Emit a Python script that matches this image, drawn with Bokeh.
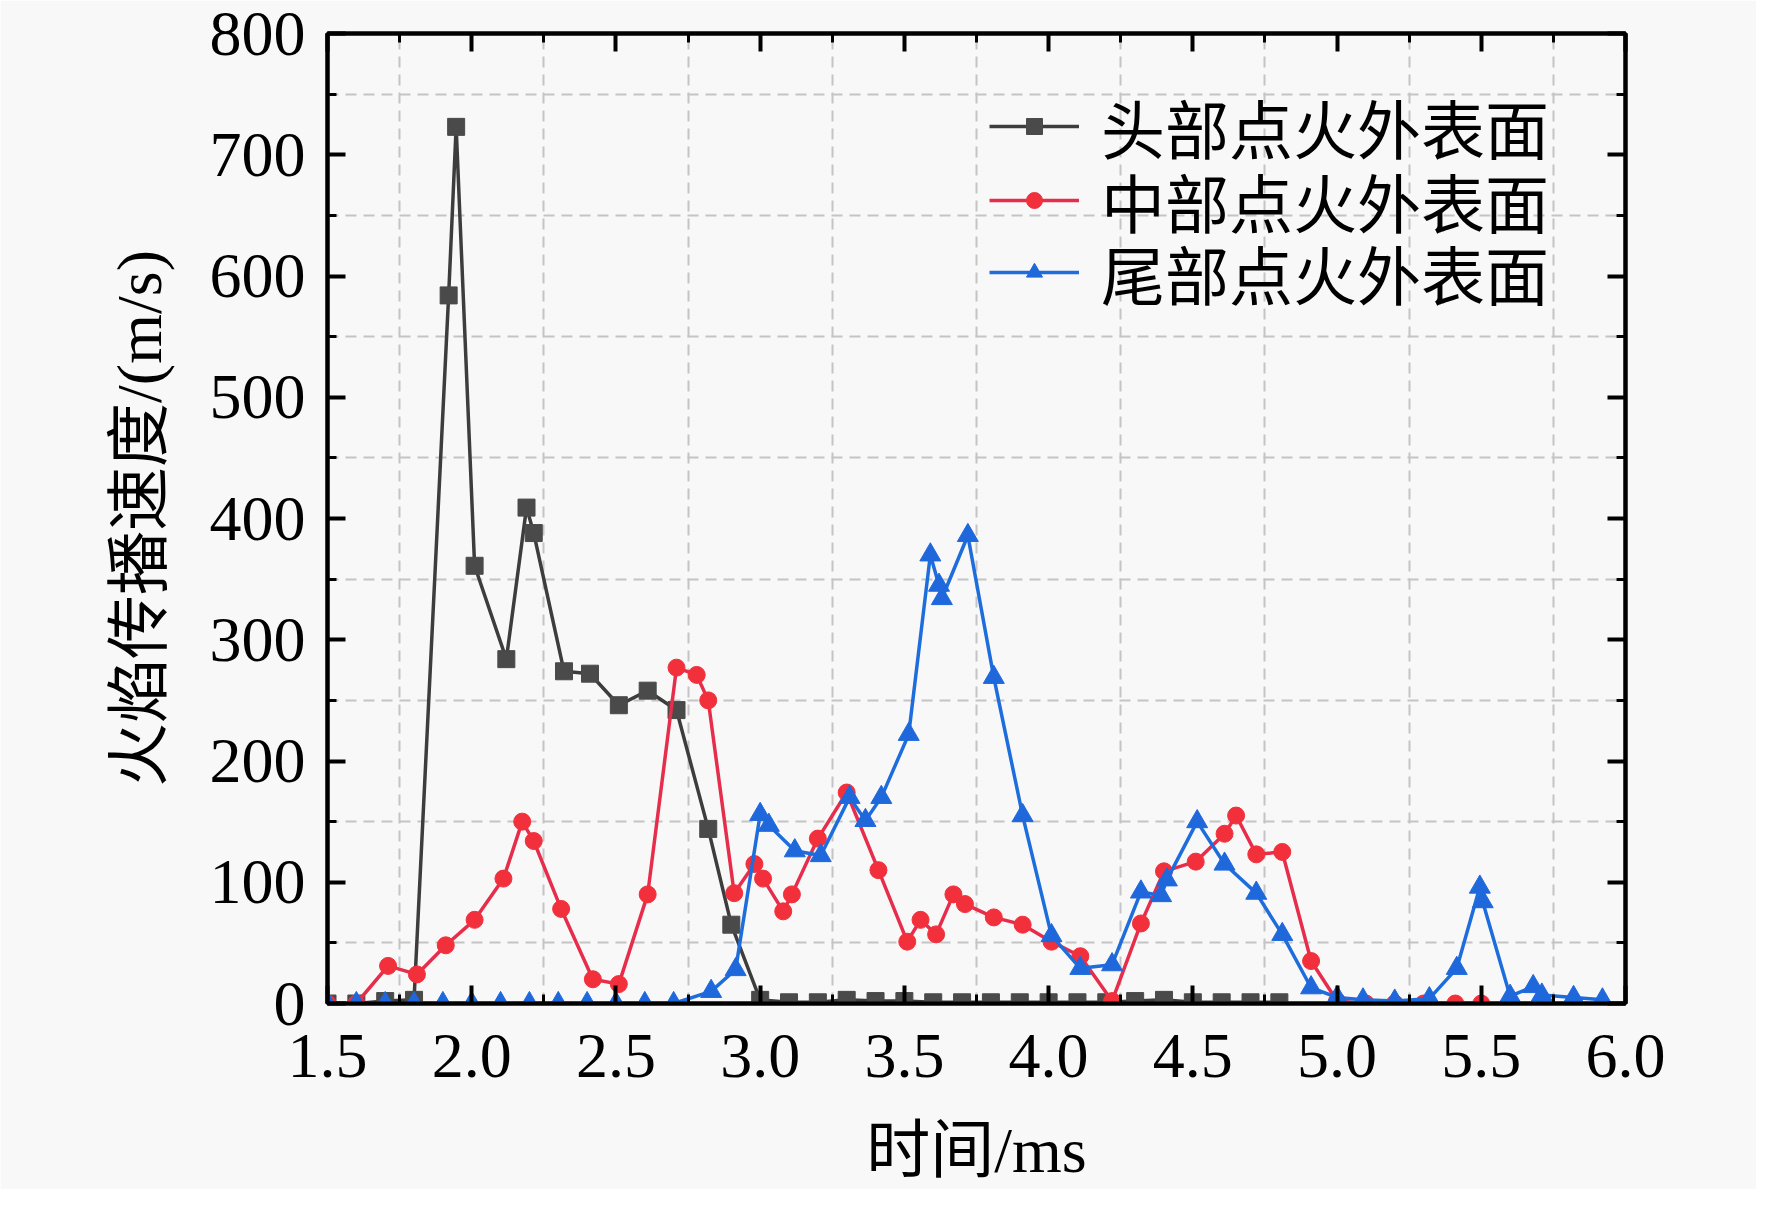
from bokeh.plotting import figure
from bokeh.models import (Range1d, FixedTicker, LinearAxis, PrintfTickFormatter, Legend,
                          CustomJSTickFormatter)
from bokeh.embed import file_html
from bokeh.resources import INLINE

# ---------------- data ----------------
head_x = [1.5, 1.6, 1.7, 1.8, 1.92, 1.946, 2.01, 2.12, 2.19, 2.215, 2.32, 2.41, 2.51, 2.61,
          2.71, 2.82, 2.90, 3.0, 3.1, 3.2, 3.3, 3.4, 3.5, 3.6, 3.7, 3.8, 3.9, 4.0, 4.1,
          4.2, 4.3, 4.4, 4.5, 4.6, 4.7, 4.8]
head_y = [0, 0, 2, 3, 584, 723, 361, 284, 409, 388, 274, 272, 246, 258,
          242, 144, 65, 3, 1, 1, 3, 2, 2, 1, 1, 1, 1, 1, 1,
          1, 2, 3, 1, 1, 1, 1]

mid_x = [1.5, 1.6, 1.71, 1.81, 1.91, 2.01, 2.11, 2.175, 2.215, 2.31, 2.42, 2.51, 2.61, 2.71,
         2.78, 2.82, 2.91, 2.98, 3.01, 3.08, 3.11, 3.20, 3.30, 3.41, 3.51, 3.556, 3.61, 3.67,
         3.71, 3.81, 3.91, 4.01, 4.11, 4.22, 4.32, 4.40, 4.51, 4.61, 4.65, 4.72, 4.81, 4.91,
         5.0, 5.1, 5.2, 5.3, 5.41, 5.5]
mid_y = [0, 0, 31, 24, 48, 69, 103, 150, 134, 78, 20, 16, 90, 277,
         271, 250, 91, 115, 103, 76, 90, 136, 174, 110, 51, 69, 57, 90,
         82, 71, 65, 51, 39, 2, 66, 109, 117, 140, 155, 123, 125, 35,
         2, 0, 0, 0, 0, 0]

tail_x = [1.5, 1.6, 1.7, 1.8, 1.9, 2.0, 2.1, 2.2, 2.3, 2.4, 2.5, 2.6, 2.7, 2.83, 2.915,
          3.0, 3.03, 3.12, 3.21, 3.31, 3.365, 3.42, 3.515, 3.59, 3.62, 3.63, 3.72, 3.81,
          3.91, 4.01, 4.11, 4.22, 4.32, 4.39, 4.41, 4.515, 4.61, 4.72, 4.81, 4.91, 5.0,
          5.09, 5.2, 5.32, 5.415, 5.495, 5.505, 5.6, 5.68, 5.71, 5.82, 5.92]
tail_y = [0, 0, 0, 0, 0, 0, 0, 0, 0, 0, 0, 0, 0, 10, 28,
          156, 147, 126, 122, 170, 151, 170, 222, 370, 345, 334, 386, 269,
          155, 56, 29, 32, 92, 89, 102, 150, 115, 91, 57, 13, 5,
          3, 2, 4, 29, 96, 84, 6, 14, 7, 5, 3]

series_names = ["头部点火外表面", "中部点火外表面", "尾部点火外表面"]
x_label = "时间/ms"
y_label = "火焰传播速度/(m/s)"

x_ticks = [1.5, 2.0, 2.5, 3.0, 3.5, 4.0, 4.5, 5.0, 5.5, 6.0]
x_minor = [1.75, 2.25, 2.75, 3.25, 3.75, 4.25, 4.75, 5.25, 5.75]
y_ticks = [0, 100, 200, 300, 400, 500, 600, 700, 800]
y_minor = [50, 150, 250, 350, 450, 550, 650, 750]

# ---------------- style ----------------
FONT = "Liberation Serif, 'Noto Sans CJK SC'"
FS = "64px"
BG = "#f8f8f8"

p = figure(width=1756, height=1189, output_backend="svg", toolbar_location=None,
           x_range=Range1d(1.5, 6.0), y_range=Range1d(0, 800),
           min_border_left=327, min_border_right=131, min_border_top=33, min_border_bottom=186,
           background_fill_color=BG, border_fill_color=BG)

p.outline_line_color = "black"
p.outline_line_width = 4

xt = FixedTicker(ticks=x_ticks, minor_ticks=x_minor)
yt = FixedTicker(ticks=y_ticks, minor_ticks=y_minor)

def style_axis(ax, ticker, labels=True):
    ax.ticker = ticker
    ax.axis_line_width = 4
    ax.axis_line_color = "black"
    ax.major_tick_in = 18
    ax.major_tick_out = 0
    ax.minor_tick_in = 9
    ax.minor_tick_out = 0
    ax.major_tick_line_width = 4
    ax.minor_tick_line_width = 3
    ax.major_tick_line_color = "black"
    ax.minor_tick_line_color = "black"
    if labels:
        ax.major_label_text_font = FONT
        ax.major_label_text_font_size = FS
        ax.major_label_text_color = "black"
        ax.axis_label_text_font = FONT
        ax.axis_label_text_font_size = FS
        ax.axis_label_text_font_style = "normal"
        ax.axis_label_text_color = "black"
    else:
        ax.formatter = CustomJSTickFormatter(code="return '';")
        ax.major_label_standoff = 0

style_axis(p.xaxis[0], xt)
style_axis(p.yaxis[0], yt)
p.xaxis[0].formatter = PrintfTickFormatter(format="%.1f")
p.xaxis[0].major_label_standoff = 31
p.xaxis[0].axis_label = x_label
p.xaxis[0].axis_label_standoff = 35
p.yaxis[0].major_label_standoff = 22
p.yaxis[0].axis_label = y_label
p.yaxis[0].axis_label_standoff = 32

top = LinearAxis()
right = LinearAxis()
style_axis(top, xt, labels=False)
style_axis(right, yt, labels=False)
p.add_layout(top, "above")
p.add_layout(right, "right")

p.xgrid.ticker = FixedTicker(ticks=x_minor)
p.ygrid.ticker = FixedTicker(ticks=y_minor)
for g in (p.xgrid, p.ygrid):
    g.grid_line_color = "#c4c4c4"
    g.grid_line_width = 2
    g.grid_line_dash = "11 7"

colors = ["#3d3d3d", "#e62e4c", "#1e6ddc"]
marker_colors = ["#4a4a4a", "#f2303c", "#1f68dc"]
markers = ["square", "circle", "triangle"]
sizes = [17, 17, 21]
data = [(head_x, head_y), (mid_x, mid_y), (tail_x, tail_y)]
legend_y = [831, 757, 685]

for (xs, ys), name, c, mc, m, s, ly in zip(data, series_names, colors, marker_colors,
                                           markers, sizes, legend_y):
    l = p.line(xs, ys, line_color=c, line_width=3.5)
    sc = p.scatter(xs, ys, marker=m, size=s, fill_color=mc, line_color=mc, line_width=1)
    lg = Legend(items=[(name, [l, sc])], location=(662, ly))
    lg.label_text_font = FONT
    lg.label_text_font_size = FS
    lg.label_text_color = "black"
    lg.glyph_width = 90
    lg.glyph_height = 40
    lg.label_standoff = 22
    lg.padding = 0
    lg.margin = 0
    lg.border_line_color = None
    lg.background_fill_alpha = 0
    p.add_layout(lg, "center")

open("out.html", "w").write(file_html(p, INLINE))
